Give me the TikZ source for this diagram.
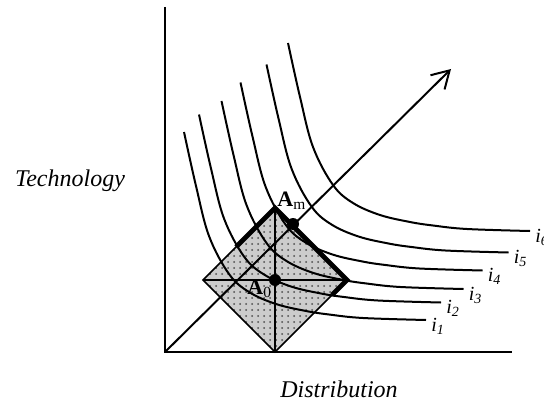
\documentclass[tikz,border=0pt]{standalone}
\usepackage{fontspec}
\setmainfont{Liberation Serif}
\usetikzlibrary{arrows.meta,patterns}
\begin{document}
\begin{tikzpicture}[x=0.5pt,y=-0.5pt,
  axis/.style={line width=1pt},
  isoq/.style={line width=1pt},
  thin line/.style={line width=0.8pt},
  thick edge/.style={line width=2.4pt, line join=miter},
  dotmark/.style={circle, fill=black, inner sep=0pt, minimum size=6pt},
  ilab/.style={anchor=west, inner sep=0pt, font=\fontsize{10}{12}\selectfont\itshape},
  caption/.style={font=\fontsize{12}{14}\selectfont\itshape},
  ptlab/.style={inner sep=0pt, font=\fontsize{11}{13}\selectfont}]
\useasboundingbox (0,0) rectangle (544,406);
% coordinates
\coordinate (O) at (165,352);
\coordinate (Ytop) at (165,7);
\coordinate (Xend) at (512,352);
\coordinate (Tip) at (451,69);
\coordinate (T) at (275,208);
\coordinate (L) at (203,280);
\coordinate (R) at (347,280);
\coordinate (B) at (275,352);
\coordinate (P1) at (236,247);
\coordinate (P2) at (332,295);
% diamond
\fill[gray!40] (T) -- (R) -- (B) -- (L) -- cycle;
\fill[pattern=dots, pattern color=black!70] (T) -- (R) -- (B) -- (L) -- cycle;
\draw[thin line] (T) -- (R) -- (B) -- (L) -- cycle;
\draw[thin line] (T) -- (B);
\draw[thin line] (L) -- (R);
% isoquants
\foreach \dx/\dy/\k in {-104/89/1, -89/71.5/2, -66.5/58/3, -47.5/39.5/4, -21.5/21.5/5, 0/0/6} {
  \begin{scope}[shift={(\dx,\dy)}]
    \draw[isoq] plot[smooth, tension=0.6] coordinates {(288,43) (300,97) (313,147) (333,185) (353,203) (380,215) (410,222) (433,225.5) (467,229) (530,231)};
    \node[ilab] (i\k) at (535,237) {i\textsubscript{\k}};
  \end{scope}
}
% axes and ray
\draw[axis] (Ytop) -- (O) -- (Xend);
\draw[axis, -{Straight Barb[length=8.5pt,width=10pt,line width=1pt]}] (O) -- (Tip);
% thick edge
\draw[thick edge] (P1) -- (T) -- (R) -- (P2);
% points
\node[dotmark] (Am) at (293,224) {};
\node[dotmark] (A0) at (275,280) {};
\node[ptlab, anchor=south west] (AmL) at (277,210) {\textbf{A}\textsubscript{m}};
\node[ptlab, anchor=south west] (A0L) at (247,298) {\textbf{A}\textsubscript{0}};
% captions
\node[caption] (tech) at (70,181) {Technology};
\node[caption] (dist) at (339,389) {Distribution};
\end{tikzpicture}
\end{document}
